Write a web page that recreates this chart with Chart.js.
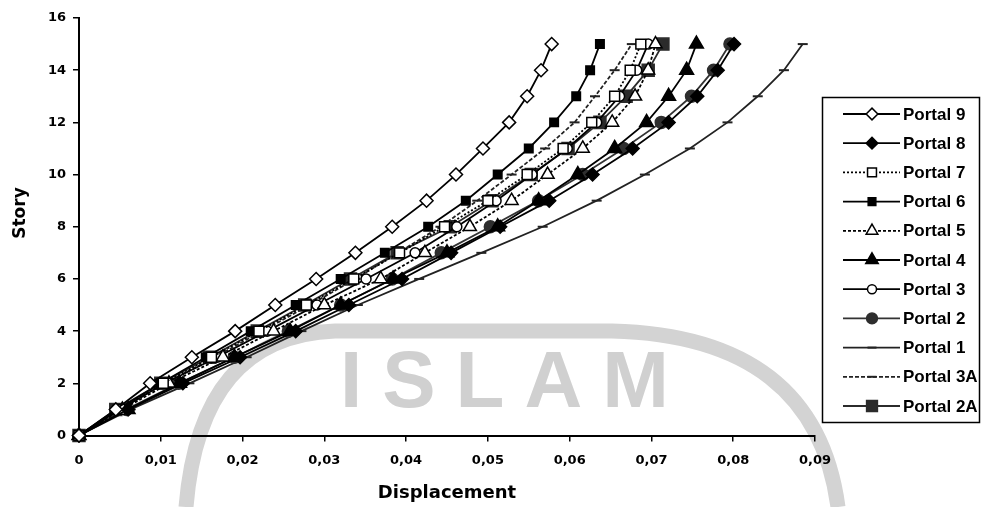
<!DOCTYPE html>
<html>
<head>
<meta charset="utf-8">
<script src="https://cdn.jsdelivr.net/npm/chart.js@4.4.1/dist/chart.umd.min.js"></script>
<style>
  html, body { margin: 0; padding: 0; background: #ffffff; }
  #wrap { position: relative; width: 982px; height: 507px; }
</style>
</head>
<body>
<div id="wrap"><canvas id="c" width="982" height="507"></canvas></div>
<script>
// Story levels (vertical axis) shared by every portal
const stories = [0, 1, 2, 3, 4, 5, 6, 7, 8, 9, 10, 11, 12, 13, 14, 15];

// Axis tick values
const xTickValues = [0, 0.01, 0.02, 0.03, 0.04, 0.05, 0.06, 0.07, 0.08, 0.09];
const yTickValues = [0, 2, 4, 6, 8, 10, 12, 14, 16];

// Lateral displacement per story for each portal frame
const portal9  = [0, 0.0045, 0.0087, 0.0138, 0.0191, 0.0240, 0.0290, 0.0338, 0.0383, 0.0425, 0.0461, 0.0494, 0.0526, 0.0548, 0.0565, 0.0578];
const portal8  = [0, 0.0060, 0.0127, 0.0197, 0.0265, 0.0330, 0.0395, 0.0455, 0.0515, 0.0575, 0.0628, 0.0677, 0.0721, 0.0756, 0.0781, 0.0801];
const portal7  = [0, 0.0050, 0.0103, 0.0162, 0.0220, 0.0278, 0.0336, 0.0392, 0.0447, 0.0500, 0.0548, 0.0592, 0.0627, 0.0655, 0.0674, 0.0687];
const portal6  = [0, 0.0047, 0.0100, 0.0155, 0.0210, 0.0265, 0.0320, 0.0374, 0.0427, 0.0473, 0.0512, 0.0550, 0.0581, 0.0608, 0.0625, 0.0637];
const portal5  = [0, 0.0053, 0.0110, 0.0176, 0.0238, 0.0300, 0.0369, 0.0423, 0.0478, 0.0529, 0.0573, 0.0616, 0.0652, 0.0680, 0.0696, 0.0705];
const portal4  = [0, 0.0060, 0.0123, 0.0190, 0.0258, 0.0320, 0.0384, 0.0450, 0.0512, 0.0562, 0.0610, 0.0655, 0.0694, 0.0721, 0.0743, 0.0755];
const portal3  = [0, 0.0050, 0.0105, 0.0169, 0.0230, 0.0291, 0.0351, 0.0411, 0.0462, 0.0510, 0.0554, 0.0597, 0.0633, 0.0661, 0.0682, 0.0696];
const portal2  = [0, 0.0058, 0.0122, 0.0190, 0.0256, 0.0320, 0.0383, 0.0443, 0.0503, 0.0562, 0.0616, 0.0666, 0.0712, 0.0749, 0.0776, 0.0796];
const portal1  = [0, 0.0063, 0.0135, 0.0205, 0.0272, 0.0341, 0.0416, 0.0492, 0.0567, 0.0633, 0.0692, 0.0747, 0.0793, 0.0830, 0.0862, 0.0885];
const portal3A = [0, 0.0050, 0.0105, 0.0166, 0.0224, 0.0282, 0.0338, 0.0390, 0.0442, 0.0487, 0.0529, 0.0570, 0.0606, 0.0631, 0.0655, 0.0676];
const portal2A = [0, 0.0045, 0.0100, 0.0160, 0.0218, 0.0276, 0.0332, 0.0389, 0.0454, 0.0505, 0.0553, 0.0598, 0.0637, 0.0669, 0.0696, 0.0714];

const seriesNames = ['Portal 9', 'Portal 8', 'Portal 7', 'Portal 6', 'Portal 5', 'Portal 4',
                     'Portal 3', 'Portal 2', 'Portal 1', 'Portal 3A', 'Portal 2A'];
const seriesValues = [portal9, portal8, portal7, portal6, portal5, portal4,
                      portal3, portal2, portal1, portal3A, portal2A];

// Marker and line style for each series
const seriesStyles = [
  { pointStyle: 'rectRot',  radius: 6.5, fill: '#ffffff', stroke: '#000000', line: '#000000', dash: [] },
  { pointStyle: 'rectRot',  radius: 6.5, fill: '#000000', stroke: '#000000', line: '#000000', dash: [] },
  { pointStyle: 'rect',     radius: 7,   fill: '#ffffff', stroke: '#000000', line: '#000000', dash: [2, 2] },
  { pointStyle: 'rect',     radius: 6,   fill: '#000000', stroke: '#000000', line: '#000000', dash: [] },
  { pointStyle: 'triangle', radius: 7.5, fill: '#ffffff', stroke: '#000000', line: '#000000', dash: [3, 2] },
  { pointStyle: 'triangle', radius: 8,   fill: '#000000', stroke: '#000000', line: '#000000', dash: [] },
  { pointStyle: 'circle',   radius: 5,   fill: '#ffffff', stroke: '#000000', line: '#000000', dash: [] },
  { pointStyle: 'circle',   radius: 6,   fill: '#2e2e2e', stroke: '#2e2e2e', line: '#333333', dash: [] },
  { pointStyle: 'line',     radius: 5,   fill: '#222222', stroke: '#222222', line: '#222222', dash: [] },
  { pointStyle: 'line',     radius: 5,   fill: '#222222', stroke: '#222222', line: '#222222', dash: [4, 2] },
  { pointStyle: 'rect',     radius: 8.5, fill: '#2b2b2b', stroke: '#2b2b2b', line: '#2b2b2b', dash: [] }
];

const datasets = seriesNames.map((name, i) => {
  const st = seriesStyles[i];
  return {
    label: name,
    data: seriesValues[i].map((d, k) => ({ x: d, y: stories[k] })),
    showLine: true,
    borderColor: st.line,
    borderWidth: 1.8,
    borderDash: st.dash,
    pointStyle: st.pointStyle,
    pointRadius: st.radius,
    pointBackgroundColor: st.fill,
    pointBorderColor: st.stroke,
    pointBorderWidth: st.pointStyle === 'line' ? 2 : 1.5,
    tension: 0,
    clip: false
  };
});

// Faint university seal watermark behind the plot
const watermark = {
  id: 'watermark',
  beforeDraw(chart) {
    const ctx = chart.ctx;
    ctx.save();
    ctx.strokeStyle = '#d3d3d3';
    ctx.lineWidth = 15;
    ctx.beginPath();
    ctx.moveTo(186, 507);
    ctx.quadraticCurveTo(200, 336, 335, 331);
    ctx.lineTo(612, 331);
    ctx.quadraticCurveTo(815, 336, 838, 507);
    ctx.stroke();
    ctx.fillStyle = '#d0d0d0';
    ctx.font = 'bold 80px "Liberation Sans"';
    ctx.textBaseline = 'alphabetic';
    ctx.textAlign = 'left';
    if ('letterSpacing' in ctx) ctx.letterSpacing = '20px';
    ctx.fillText('ISLAM', 340, 407);
    ctx.restore();
  }
};

// Rotated vertical-axis caption
const storyCaption = {
  id: 'storyCaption',
  afterDraw(chart) {
    const ctx = chart.ctx;
    ctx.save();
    ctx.translate(21, 213);
    ctx.rotate(-Math.PI / 2);
    ctx.fillStyle = '#000000';
    ctx.font = 'bold 17px "DejaVu Sans"';
    ctx.textAlign = 'center';
    ctx.textBaseline = 'middle';
    ctx.fillText('Story', 0, 0);
    ctx.restore();
  }
};

// Boxed legend on the right: line sample, marker, label
function fallbackPoint(ctx, style, r, x, y) {
  ctx.beginPath();
  if (style === 'circle') ctx.arc(x, y, r, 0, Math.PI * 2);
  else if (style === 'rect') { const s = r * Math.SQRT1_2; ctx.rect(x - s, y - s, 2 * s, 2 * s); }
  else if (style === 'rectRot') { ctx.moveTo(x - r, y); ctx.lineTo(x, y - r); ctx.lineTo(x + r, y); ctx.lineTo(x, y + r); ctx.closePath(); }
  else if (style === 'triangle') { ctx.moveTo(x - r * 0.866, y + r / 2); ctx.lineTo(x, y - r); ctx.lineTo(x + r * 0.866, y + r / 2); ctx.closePath(); }
  else { ctx.moveTo(x - r, y); ctx.lineTo(x + r, y); ctx.stroke(); return; }
  ctx.fill(); ctx.stroke();
}

const boxedLegend = {
  id: 'boxedLegend',
  afterDraw(chart) {
    const ctx = chart.ctx;
    ctx.save();
    ctx.lineWidth = 1.5;
    ctx.strokeStyle = '#000000';
    ctx.strokeRect(822.5, 97.5, 157, 325);
    chart.data.datasets.forEach((ds, i) => {
      const y = 114 + i * 29.2;
      ctx.save();
      ctx.strokeStyle = ds.borderColor;
      ctx.lineWidth = ds.borderWidth;
      ctx.setLineDash(ds.borderDash || []);
      ctx.beginPath();
      ctx.moveTo(843, y);
      ctx.lineTo(900, y);
      ctx.stroke();
      ctx.setLineDash([]);
      ctx.fillStyle = ds.pointBackgroundColor;
      ctx.strokeStyle = ds.pointBorderColor;
      ctx.lineWidth = ds.pointBorderWidth;
      const r = ds.pointRadius * 0.9;
      if (Chart.helpers && Chart.helpers.drawPoint) {
        Chart.helpers.drawPoint(ctx, { pointStyle: ds.pointStyle, radius: r, borderWidth: ds.pointBorderWidth, rotation: 0 }, 872, y);
      } else {
        fallbackPoint(ctx, ds.pointStyle, r, 872, y);
      }
      ctx.restore();
      ctx.fillStyle = '#000000';
      ctx.font = 'bold 17px "Liberation Sans"';
      ctx.textBaseline = 'middle';
      ctx.textAlign = 'left';
      ctx.fillText(ds.label, 903, y + 1);
    });
    ctx.restore();
  }
};

const tickFont = { family: '"DejaVu Sans"', size: 13, weight: 'bold' };

new Chart(document.getElementById('c'), {
  type: 'scatter',
  data: { datasets },
  plugins: [watermark, storyCaption, boxedLegend],
  options: {
    responsive: false,
    devicePixelRatio: 1,
    animation: false,
    events: [],
    layout: { padding: { left: 0, right: 167, top: 18, bottom: 0 } },
    plugins: { legend: { display: false }, tooltip: { enabled: false } },
    scales: {
      x: {
        type: 'linear',
        position: 'bottom',
        min: 0,
        max: 0.09,
        afterBuildTicks(scale) { scale.ticks = xTickValues.map(v => ({ value: v })); },
        afterFit(scale) { scale.height = 507 - 435.5; },
        ticks: {
          color: '#000000',
          font: tickFont,
          padding: 11,
          maxRotation: 0,
          autoSkip: false,
          callback: v => (v === 0 ? '0' : v.toFixed(2).replace('.', ','))
        },
        grid: { display: true, drawOnChartArea: false, drawTicks: true, tickLength: 6, color: '#000000', lineWidth: 1.5 },
        border: { display: true, color: '#000000', width: 2 },
        title: {
          display: true,
          text: 'Displacement',
          color: '#000000',
          font: { family: '"DejaVu Sans"', size: 18, weight: 'bold' },
          padding: { top: 0, bottom: 3 }
        }
      },
      y: {
        type: 'linear',
        min: 0,
        max: 16,
        afterBuildTicks(scale) { scale.ticks = yTickValues.map(v => ({ value: v })); },
        afterFit(scale) { scale.width = 79; },
        ticks: { color: '#000000', font: tickFont, padding: 7, autoSkip: false },
        grid: { display: true, drawOnChartArea: false, drawTicks: true, tickLength: 6, color: '#000000', lineWidth: 1.5 },
        border: { display: true, color: '#000000', width: 2 },
        title: { display: false }
      }
    }
  }
});
</script>
</body>
</html>
